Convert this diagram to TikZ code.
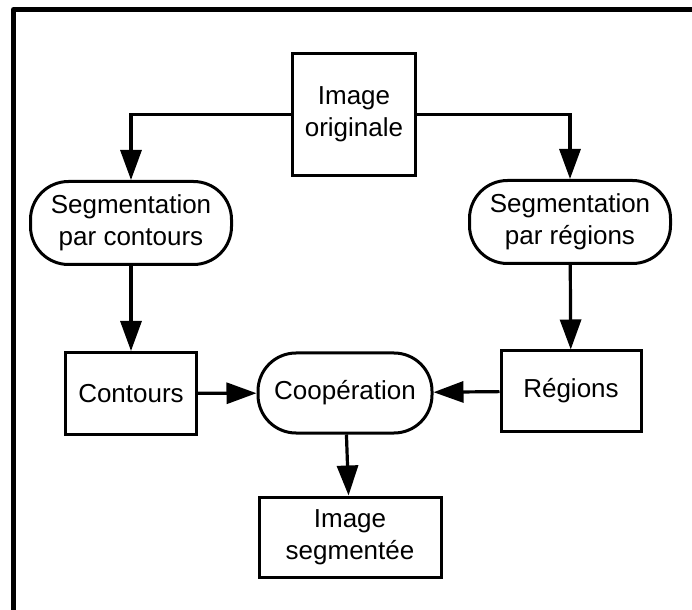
\documentclass[tikz,border=0pt]{standalone}
\usepackage{fontspec}
\setmainfont{Liberation Sans}
\usetikzlibrary{arrows.meta}

\begin{document}
\begin{tikzpicture}[x=0.5pt, y=-0.5pt, line width=1.5pt,
  box/.style={draw, rectangle, align=center, inner sep=0pt, font=\fontsize{13}{16}\selectfont},
  pill/.style={box, rounded corners=19pt},
  arr/.style={-{Triangle[length=15pt, width=10.5pt]}, line width=1.6pt}]
\useasboundingbox (0,0) rectangle (692,610);
\clip (0,0) rectangle (692,610);
\draw[line width=2.5pt, line join=round] (13.5,620) |- (700,9.5);

\node[box, minimum width=61.5pt, minimum height=61pt] (orig) at (354,114.5) {Image\\originale};
\node[pill, minimum width=100.5pt, minimum height=41.5pt] (segc) at (131,223) {Segmentation\\par contours};
\node[pill, minimum width=100.5pt, minimum height=41.5pt] (segr) at (570,222) {Segmentation\\par régions};
\node[box, minimum width=65.5pt, minimum height=41pt] (cont) at (131,393.5) {Contours};
\node[pill, minimum width=87pt, minimum height=40pt] (coop) at (345,393) {Coopération};
\node[box, minimum width=70pt, minimum height=40pt] (reg) at (571,391) {Régions};
\node[box, minimum width=91pt, minimum height=40pt] (seg) at (350,537) {Image\\segmentée};

\draw[arr] (orig.west) -| (segc.north);
\draw[arr] (orig.east) -| (segr.north);
\draw[arr] (segc) -- (cont);
\draw[arr] (segr) -- (reg);
\draw[arr] (cont) -- (coop);
\draw[arr] (reg) -- (coop);
\draw[arr] (coop) -- (seg);
\end{tikzpicture}
\end{document}
